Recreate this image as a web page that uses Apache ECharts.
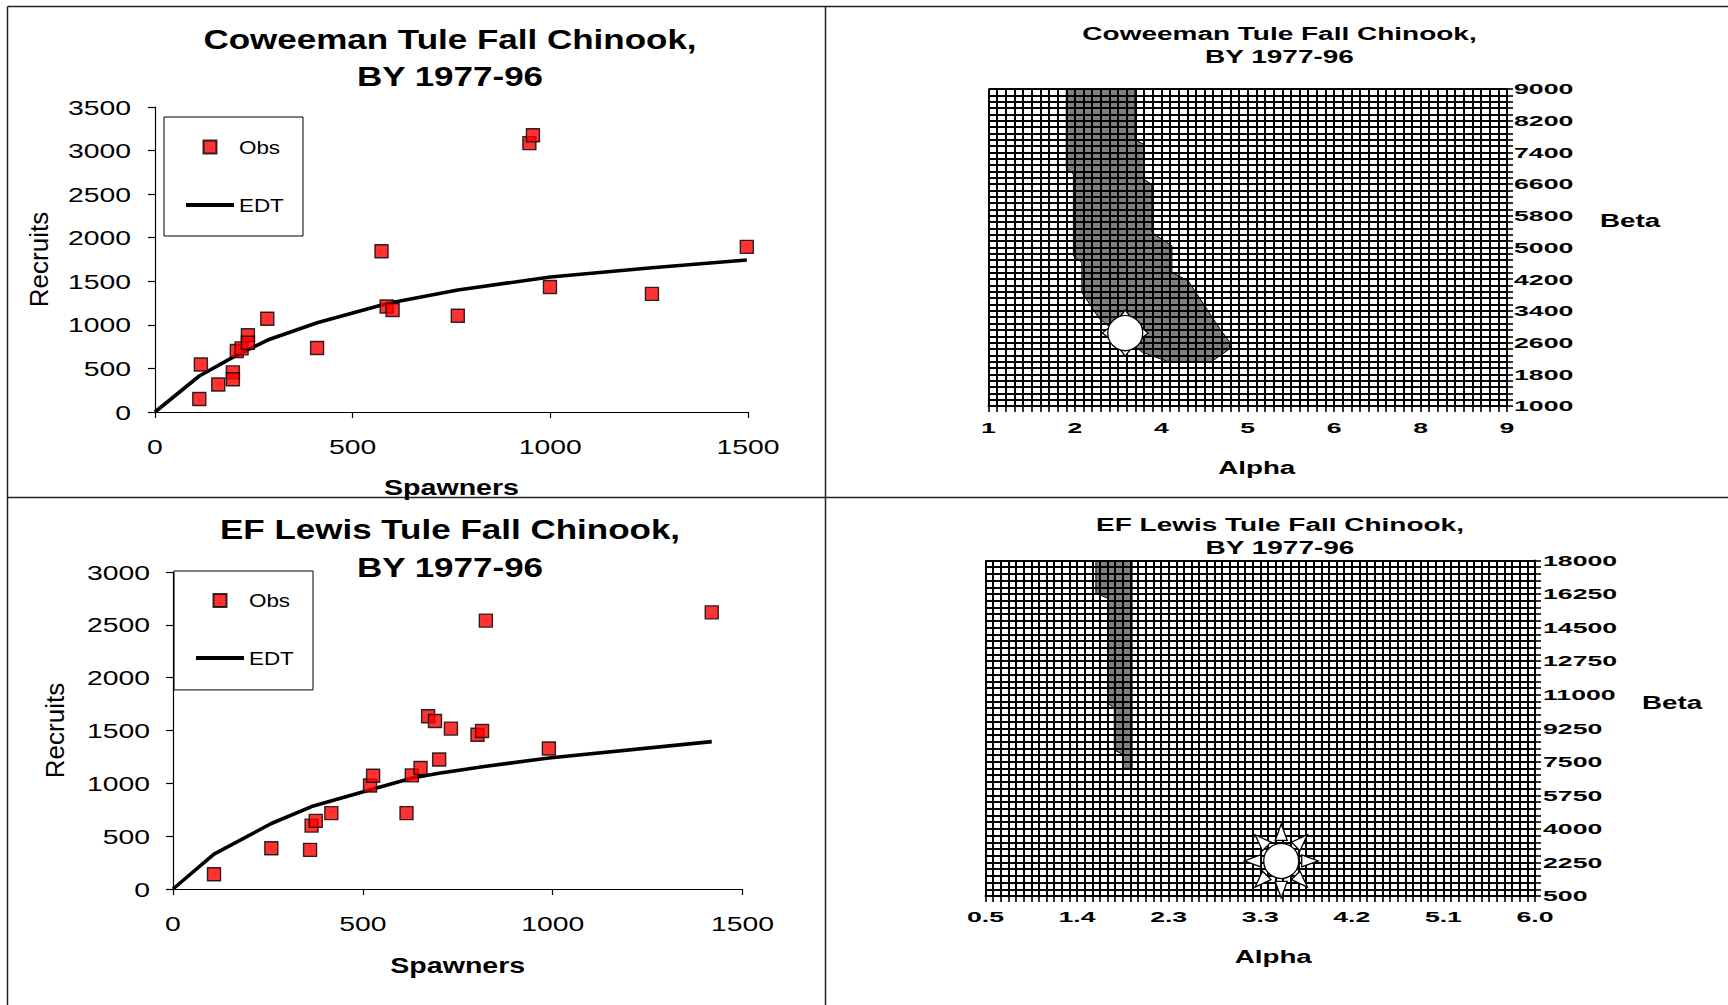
<!DOCTYPE html>
<html>
<head>
<meta charset="utf-8">
<script src="https://cdn.jsdelivr.net/npm/echarts@6/dist/echarts.min.js"></script>
<style>
html,body{margin:0;padding:0;background:#fff;}
#chart{width:1728px;height:1005px;}
</style>
</head>
<body>
<div id="chart"></div>
<script>
// ---------------- DATA ----------------
// Coweeman: observed spawners / recruits
const topObs = [[112,150],[116,545],[160,315],[197,455],[197,375],[207,700],[219,730],[235,880],[235,795],[284,1070],
  [410,735],[573,1845],[586,1210],[601,1170],[766,1105],[947,3085],[956,3175],[999,1435],[1257,1355],[1497,1895]];
// Coweeman: EDT curve
const topEDT = [[0,0],[112,413],[200,635],[285,826],[410,1025],[590,1247],[766,1400],[1000,1549],[1257,1656],[1497,1744]];
// EF Lewis: observed spawners / recruits
const botObs = [[108,140],[259,385],[361,370],[365,600],[376,645],[417,718],[519,980],[527,1072],[615,718],[629,1075],
  [652,1145],[701,1225],[672,1635],[690,1590],[732,1518],[802,1460],[814,1495],[824,2540],[990,1330],[1419,2618]];
// EF Lewis: EDT curve
const botEDT = [[0,0],[108,330],[259,620],[365,780],[520,940],[630,1050],[700,1095],[820,1160],[990,1240],[1419,1395]];

// Likelihood contour regions (alpha, beta)
const topContour = [[2.20,9000],[3.26,9000],[3.26,7720],[3.40,7600],[3.40,6720],[3.52,6590],[3.52,5380],[3.83,5040],
  [3.83,4370],[4.08,4160],[4.57,2950],[4.72,2610],[4.72,2440],[4.44,2120],[3.77,2120],[3.37,2360],[2.71,3200],
  [2.44,3870],[2.44,4620],[2.31,4790],[2.31,6850],[2.20,7010]];
const botContour = [[1.605,18000],[1.967,18000],[1.967,7160],[1.881,7160],[1.881,7860],[1.789,8120],[1.789,10290],
  [1.725,10555],[1.725,16030],[1.605,16295]];
// Best-fit points (alpha, beta)
const topBest = [[3.11,2840]];
const botBest = [[3.46,2330]];

// Axis tick labels (surface-chart style, evenly spaced over the range)
const topAlphaLabels = ['1','2','4','5','6','8','9'];
const topBetaLabels = ['1000','1800','2600','3400','4200','5000','5800','6600','7400','8200','9000'];
const botAlphaLabels = ['0.5','1.4','2.3','3.3','4.2','5.1','6.0'];
const botBetaLabels = ['500','2250','4000','5750','7500','9250','11000','12750','14500','16250','18000'];
const topAlphaRange = [1, 9], topBetaRange = [1000, 9000];
const botAlphaRange = [0.5, 6.0], botBetaRange = [500, 18000];
const topCols = 60, topRows = 50, botCols = 72, botRows = 50;

// ---------------- CHART ----------------
const FONT = 'Liberation Sans, Arial, sans-serif';
function evenly(min, max, n) {
  return Array.from({length: n + 1}, (_, i) => i === n ? max : min + (max - min) * i / n);
}
const plain = v => String(v);

function leftX(gridIndex, nameGap) {
  return {
    gridIndex, type: 'value', min: 0, max: 1500, interval: 500,
    axisLine: {show: true, onZero: false, lineStyle: {color: '#000', width: 1.2}},
    axisTick: {show: true, length: 6, lineStyle: {color: '#000', width: 1.2}},
    axisLabel: {fontSize: 21, color: '#000', fontFamily: FONT, margin: 24, formatter: plain},
    splitLine: {show: false},
    name: 'Spawners', nameLocation: 'middle', nameGap,
    nameTextStyle: {fontSize: 22, fontWeight: 'bold', color: '#000', fontFamily: FONT}
  };
}
function leftY(gridIndex, max, nameGap, margin) {
  return {
    gridIndex, type: 'value', min: 0, max, interval: 500,
    axisLine: {show: true, onZero: false, lineStyle: {color: '#000', width: 1.2}},
    axisTick: {show: true, length: 7, lineStyle: {color: '#000', width: 1.2}},
    axisLabel: {fontSize: 21, color: '#000', fontFamily: FONT, margin, formatter: plain},
    splitLine: {show: false},
    name: 'Recruits', nameLocation: 'middle', nameRotate: 90, nameGap,
    nameTextStyle: {fontSize: 26, color: '#000', fontFamily: FONT}
  };
}
function labelFmt(labels, range) {
  return function (v) {
    const i = Math.round((v - range[0]) / (range[1] - range[0]) * (labels.length - 1));
    return labels[i];
  };
}
function meshX(gridIndex, range, cols, labels, margin, nameGap, padLeft) {
  return {
    gridIndex, type: 'value', min: range[0], max: range[1], position: 'bottom', z: 3,
    axisLine: {show: true, onZero: false, lineStyle: {color: '#000', width: 2}},
    axisTick: {show: true, length: 6, customValues: evenly(range[0], range[1], cols), lineStyle: {color: '#000', width: 1.6}},
    axisLabel: {customValues: evenly(range[0], range[1], labels.length - 1), formatter: labelFmt(labels, range),
      fontSize: 15.5, fontWeight: 'bold', color: '#000', fontFamily: FONT, margin},
    splitLine: {show: true, lineStyle: {color: '#000', width: 2}},
    name: 'Alpha', nameLocation: 'middle', nameGap,
    nameTextStyle: {fontSize: 18.5, fontWeight: 'bold', color: '#000', fontFamily: FONT, padding: [0, 0, 0, padLeft]}
  };
}
function meshY(gridIndex, range, rows, labels, margin, nameGap, lift) {
  return {
    gridIndex, type: 'value', min: range[0], max: range[1], position: 'right', z: 3,
    axisLine: {show: true, onZero: false, lineStyle: {color: '#000', width: 2}},
    axisTick: {show: true, length: 6, customValues: evenly(range[0], range[1], rows), lineStyle: {color: '#000', width: 1.6}},
    axisLabel: {customValues: evenly(range[0], range[1], labels.length - 1), formatter: labelFmt(labels, range),
      fontSize: 15.5, fontWeight: 'bold', color: '#000', fontFamily: FONT, margin},
    splitLine: {show: true, lineStyle: {color: '#000', width: 2}},
    // two trailing empty lines lift the name above the axis middle by one line height
    name: 'Beta\n\n', nameLocation: 'middle', nameRotate: 0, nameGap,
    nameTextStyle: {fontSize: 18.5, fontWeight: 'bold', color: '#000', fontFamily: FONT, lineHeight: lift}
  };
}
function polyItem(points) {
  return function (params, api) {
    if (params.dataIndex !== 0) return null;
    return {
      type: 'polygon',
      shape: {points: points.map(p => api.coord(p))},
      style: {fill: '#808080', stroke: '#000', lineWidth: 1}
    };
  };
}
function sunItem(rays, R, rIn, rOut, halfW) {
  return function (params, api) {
    const c = api.coord([api.value(0), api.value(1)]);
    const children = [];
    for (let k = 0; k < rays; k++) {
      const a = k * 2 * Math.PI / rays - Math.PI / 2;
      const ca = Math.cos(a), sa = Math.sin(a);
      const tip = [c[0] + rOut * ca, c[1] + rOut * sa];
      const b1 = [c[0] + rIn * ca - halfW * sa, c[1] + rIn * sa + halfW * ca];
      const b2 = [c[0] + rIn * ca + halfW * sa, c[1] + rIn * sa - halfW * ca];
      children.push({type: 'polygon', shape: {points: [b1, tip, b2]}, style: {fill: '#fff', stroke: '#000', lineWidth: 1.3}});
    }
    children.push({type: 'circle', shape: {cx: c[0], cy: c[1], r: R}, style: {fill: '#fff', stroke: '#000', lineWidth: 1.3}});
    return {type: 'group', children};
  };
}
function legendAt(left, top, padTop, gap, padBottom) {
  return {
    data: [
      {name: 'Obs', icon: 'path://M0 0H10V10H0Z'},
      {name: 'EDT', icon: 'path://M0 0H48V4H0Z'}
    ],
    orient: 'vertical', left, top, padding: [padTop, 26, padBottom, 22], symbolKeepAspect: true,
    itemGap: gap, itemWidth: 48, itemHeight: 13, borderColor: '#000', borderWidth: 1,
    selectedMode: false, textStyle: {fontSize: 19, color: '#000', fontFamily: FONT}
  };
}
const obsStyle = {color: '#ff0000', borderColor: '#000', borderWidth: 1.4};

const option = {
  animation: false,
  backgroundColor: '#fff',
  title: [
    {text: 'Coweeman Tule Fall Chinook,\nBY 1977-96', left: 450, top: 21.5, textAlign: 'center', padding: 0,
      textStyle: {fontSize: 28, fontWeight: 'bold', lineHeight: 36.5, color: '#000', fontFamily: FONT}},
    {text: 'EF Lewis Tule Fall Chinook,\nBY 1977-96', left: 450, top: 511, textAlign: 'center', padding: 0,
      textStyle: {fontSize: 28, fontWeight: 'bold', lineHeight: 37.5, color: '#000', fontFamily: FONT}},
    {text: 'Coweeman Tule Fall Chinook,\nBY 1977-96', left: 1279.5, top: 23, textAlign: 'center', padding: 0,
      textStyle: {fontSize: 17.5, fontWeight: 'bold', lineHeight: 23, color: '#000', fontFamily: FONT}},
    {text: 'EF Lewis Tule Fall Chinook,\nBY 1977-96', left: 1280, top: 514, textAlign: 'center', padding: 0,
      textStyle: {fontSize: 17.5, fontWeight: 'bold', lineHeight: 23, color: '#000', fontFamily: FONT}}
  ],
  legend: [legendAt(164, 117, 20.5, 39, 21.5), legendAt(174, 571, 20, 38.4, 22.5)],
  grid: [
    {left: 155, top: 107, width: 593, height: 305},
    {left: 173, top: 572, width: 569.5, height: 317},
    {left: 988.5, top: 89, width: 518.5, height: 317},
    {left: 985.5, top: 560.5, width: 549.5, height: 335.5}
  ],
  xAxis: [
    leftX(0, 64),
    leftX(1, 65),
    meshX(2, topAlphaRange, topCols, topAlphaLabels, 13.5, 52, 18),
    meshX(3, botAlphaRange, botCols, botAlphaLabels, 12.5, 51, 26)
  ],
  yAxis: [
    leftY(0, 3500, 103, 24),
    leftY(1, 3000, 105, 23),
    meshY(2, topBetaRange, topRows, topBetaLabels, 7, 93, 27),
    meshY(3, botBetaRange, botRows, botBetaLabels, 8, 107, 26)
  ],
  series: [
    {name: 'EDT', type: 'line', xAxisIndex: 0, yAxisIndex: 0, data: topEDT, showSymbol: false, symbol: 'none',
      lineStyle: {color: '#000', width: 3.6}, itemStyle: {color: '#000'}, z: 2},
    {name: 'Obs', type: 'scatter', xAxisIndex: 0, yAxisIndex: 0, data: topObs, symbol: 'rect', symbolSize: 13,
      itemStyle: obsStyle, z: 3},
    {name: 'EDT', type: 'line', xAxisIndex: 1, yAxisIndex: 1, data: botEDT, showSymbol: false, symbol: 'none',
      lineStyle: {color: '#000', width: 3.6}, itemStyle: {color: '#000'}, z: 2},
    {name: 'Obs', type: 'scatter', xAxisIndex: 1, yAxisIndex: 1, data: botObs, symbol: 'rect', symbolSize: 13,
      itemStyle: obsStyle, z: 3},
    {name: 'Contour', type: 'custom', xAxisIndex: 2, yAxisIndex: 2, data: topContour, renderItem: polyItem(topContour), z: 1, silent: true},
    {name: 'Best fit', type: 'custom', xAxisIndex: 2, yAxisIndex: 2, data: topBest, renderItem: sunItem(4, 17.5, 10, 23, 10), z: 6, silent: true},
    {name: 'Contour', type: 'custom', xAxisIndex: 3, yAxisIndex: 3, data: botContour, renderItem: polyItem(botContour), z: 1, silent: true},
    {name: 'Best fit', type: 'custom', xAxisIndex: 3, yAxisIndex: 3, data: botBest, renderItem: sunItem(8, 17.5, 20.5, 37, 6), z: 6, silent: true}
  ],
  graphic: {
    elements: [
      {type: 'line', silent: true, shape: {x1: 7.5, y1: 6.5, x2: 1728, y2: 6.5}, style: {stroke: '#222', lineWidth: 1.5}},
      {type: 'line', silent: true, shape: {x1: 7.5, y1: 6.5, x2: 7.5, y2: 1005}, style: {stroke: '#222', lineWidth: 1.5}},
      {type: 'line', silent: true, shape: {x1: 825.5, y1: 6.5, x2: 825.5, y2: 1005}, style: {stroke: '#222', lineWidth: 1.5}},
      {type: 'line', silent: true, shape: {x1: 7.5, y1: 497.5, x2: 1728, y2: 497.5}, style: {stroke: '#222', lineWidth: 1.5}}
    ]
  }
};

const chart = echarts.init(document.getElementById('chart'), null, {renderer: 'svg', width: 1728, height: 1005});
chart.setOption(option);

// The reference's lettering is horizontally widened; widen SVG text about its anchor.
const STRETCH = {'28': 1.25, '21': 1.35, '22': 1.3, '19': 1.18, '17.5': 1.6, '15.5': 1.72, '18.5': 1.5};
function stretchTexts() {
  document.querySelectorAll('#chart svg text').forEach(t => {
    const tr = t.getAttribute('transform') || '';
    if (tr.indexOf('scale(') >= 0) return;
    const fs = parseFloat(getComputedStyle(t).fontSize);
    let s = null;
    for (const k in STRETCH) if (Math.abs(parseFloat(k) - fs) < 0.2) s = STRETCH[k];
    if (!s) return;
    const m = tr.match(/matrix\(([^)]+)\)/);
    if (m) {
      const v = m[1].split(/[\s,]+/).map(Number);
      if (Math.abs(v[1]) > 0.01) return;
    }
    const x = parseFloat(t.getAttribute('x') || 0), y = parseFloat(t.getAttribute('y') || 0);
    t.setAttribute('transform', (tr + ' translate(' + x + ' ' + y + ') scale(' + s + ' 1) translate(' + (-x) + ' ' + (-y) + ')').trim());
  });
}
stretchTexts();
chart.on('finished', stretchTexts);
setTimeout(stretchTexts, 50);
setTimeout(stretchTexts, 300);
</script>
</body>
</html>
